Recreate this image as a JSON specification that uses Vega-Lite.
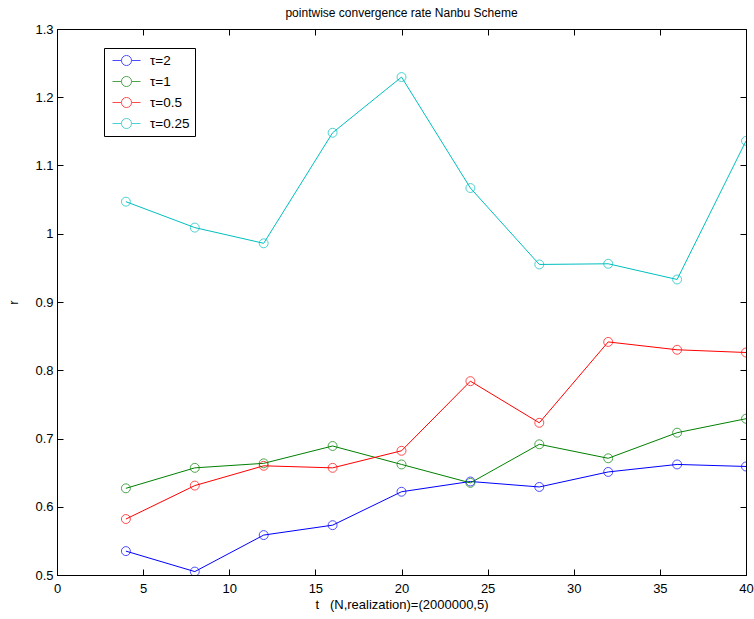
{
  "$schema": "https://vega.github.io/schema/vega-lite/v6.json",
  "width": 689,
  "height": 546,
  "autosize": "none",
  "padding": {"left": 57, "top": 29, "right": 8, "bottom": 44},
  "background": "white",
  "title": {"text": "pointwise convergence rate Nanbu Scheme", "fontSize": 12, "fontWeight": "normal", "font": "Liberation Sans", "anchor": "middle", "offset": 3, "color": "black"},
  "config": {
    "view": {"stroke": "black", "strokeWidth": 1},
    "font": "Liberation Sans",
    "axis": {"grid": false, "domainColor": "black", "tickColor": "black", "labelColor": "black", "titleColor": "black", "labelFont": "Liberation Sans", "titleFont": "Liberation Sans", "labelFontSize": 13, "titleFontSize": 13, "titleFontWeight": "normal", "tickSize": -6, "domainWidth": 1}
  },
  "data": {"values": [
    {"t": 4, "r": 0.535, "s": "τ=2"}, {"t": 8, "r": 0.505, "s": "τ=2"}, {"t": 12, "r": 0.5585, "s": "τ=2"}, {"t": 16, "r": 0.573, "s": "τ=2"}, {"t": 20, "r": 0.622, "s": "τ=2"},
    {"t": 24, "r": 0.637, "s": "τ=2"}, {"t": 28, "r": 0.629, "s": "τ=2"}, {"t": 32, "r": 0.651, "s": "τ=2"}, {"t": 36, "r": 0.662, "s": "τ=2"}, {"t": 40, "r": 0.659, "s": "τ=2"},
    {"t": 4, "r": 0.627, "s": "τ=1"}, {"t": 8, "r": 0.657, "s": "τ=1"}, {"t": 12, "r": 0.6636, "s": "τ=1"}, {"t": 16, "r": 0.689, "s": "τ=1"}, {"t": 20, "r": 0.662, "s": "τ=1"},
    {"t": 24, "r": 0.635, "s": "τ=1"}, {"t": 28, "r": 0.6915, "s": "τ=1"}, {"t": 32, "r": 0.671, "s": "τ=1"}, {"t": 36, "r": 0.7085, "s": "τ=1"}, {"t": 40, "r": 0.729, "s": "τ=1"},
    {"t": 4, "r": 0.582, "s": "τ=0.5"}, {"t": 8, "r": 0.631, "s": "τ=0.5"}, {"t": 12, "r": 0.66, "s": "τ=0.5"}, {"t": 16, "r": 0.657, "s": "τ=0.5"}, {"t": 20, "r": 0.682, "s": "τ=0.5"},
    {"t": 24, "r": 0.784, "s": "τ=0.5"}, {"t": 28, "r": 0.723, "s": "τ=0.5"}, {"t": 32, "r": 0.8415, "s": "τ=0.5"}, {"t": 36, "r": 0.83, "s": "τ=0.5"}, {"t": 40, "r": 0.826, "s": "τ=0.5"},
    {"t": 4, "r": 1.047, "s": "τ=0.25"}, {"t": 8, "r": 1.009, "s": "τ=0.25"}, {"t": 12, "r": 0.986, "s": "τ=0.25"}, {"t": 16, "r": 1.148, "s": "τ=0.25"}, {"t": 20, "r": 1.2296, "s": "τ=0.25"},
    {"t": 24, "r": 1.067, "s": "τ=0.25"}, {"t": 28, "r": 0.955, "s": "τ=0.25"}, {"t": 32, "r": 0.956, "s": "τ=0.25"}, {"t": 36, "r": 0.933, "s": "τ=0.25"}, {"t": 40, "r": 1.136, "s": "τ=0.25"}
  ]},
  "encoding": {
    "color": {"field": "s", "type": "nominal", "sort": ["τ=2", "τ=1", "τ=0.5", "τ=0.25"],
      "scale": {"domain": ["τ=2", "τ=1", "τ=0.5", "τ=0.25"], "range": ["#0000ff", "#008000", "#ff0000", "#00bfbf"]},
      "legend": {"title": null, "orient": "none", "legendX": 47, "legendY": 19, "fillColor": "white", "strokeColor": "black", "padding": 5,
        "symbolType": "M-2,0L-0.72,0M0.72,0L2,0M-0.72,0A0.72,0.72 0 1,1 0.72,0A0.72,0.72 0 1,1 -0.72,0",
        "symbolSize": 196, "symbolOffset": 10, "symbolStrokeWidth": 1, "symbolFillColor": "transparent", "labelFontSize": 13.5, "labelFont": "Liberation Sans", "labelColor": "black", "labelOffset": 16, "rowPadding": 6}}
  },
  "layer": [
    {"mark": {"type": "line", "strokeWidth": 1, "clip": true},
     "encoding": {
      "x": {"field": "t", "type": "quantitative", "scale": {"domain": [0, 40], "nice": false}, "axis": {"values": [0, 5, 10, 15, 20, 25, 30, 35, 40], "title": "t\u00a0\u00a0\u00a0(N,realization)=(2000000,5)", "labelPadding": 13, "titlePadding": 3, "labelFlush": false}},
      "y": {"field": "r", "type": "quantitative", "scale": {"domain": [0.5, 1.3], "nice": false, "zero": false}, "axis": {"values": [0.5, 0.6, 0.7, 0.8, 0.9, 1, 1.1, 1.2, 1.3], "format": "~g", "title": "r", "labelPadding": 10, "titlePadding": 14, "labelFlush": false}}
     }},
    {"mark": {"type": "point", "shape": "circle", "size": 80, "filled": false, "strokeWidth": 1, "clip": true},
     "encoding": {
      "x": {"field": "t", "type": "quantitative", "axis": {"orient": "top", "values": [0, 5, 10, 15, 20, 25, 30, 35, 40], "labels": false, "title": null, "domain": false}},
      "y": {"field": "r", "type": "quantitative", "axis": {"orient": "right", "values": [0.5, 0.6, 0.7, 0.8, 0.9, 1, 1.1, 1.2, 1.3], "labels": false, "title": null, "domain": false}}
     }}
  ],
  "resolve": {"axis": {"x": "independent", "y": "independent"}}
}
